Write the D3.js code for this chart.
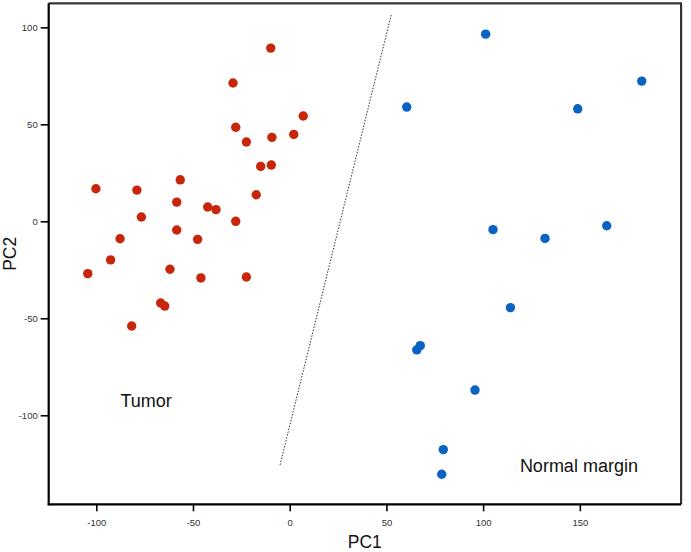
<!DOCTYPE html>
<html>
<head>
<meta charset="utf-8">
<script src="https://cdn.jsdelivr.net/npm/d3@7"></script>
<style>
  html, body { margin: 0; padding: 0; background: #fff; }
  svg { display: block; font-family: "Liberation Sans", Arial, sans-serif; }
</style>
</head>
<body>
<svg id="chart" width="691" height="552"></svg>
<script>
// ---- data (PC1, PC2) ----
const tumorPC1 = [-9.8, -29.3, 7.0, -27.9, 2.1, -9.2, -22.4, -15.0, -9.5, -17.3,
  -100.2, -79.0, -56.6, -58.4, -42.4, -38.1, -76.7, -27.9, -58.4, -87.7,
  -47.6, -92.6, -104.4, -61.9, -45.9, -22.4, -66.7, -64.6, -81.7];
const tumorPC2 = [89.3, 71.3, 54.3, 48.5, 44.8, 43.3, 40.9, 28.3, 29.0, 13.7,
  16.8, 16.1, 21.4, 9.9, 7.4, 6.0, 2.2, 0.0, -4.5, -9.0,
  -9.3, -19.9, -27.0, -24.7, -29.2, -28.7, -42.1, -43.7, -54.0];
const normalPC1 = [101.3, 182.0, 60.5, 148.9, 105.1, 132.0, 163.9, 114.1, 67.5, 65.7, 95.8, 79.4, 78.6];
const normalPC2 = [96.5, 72.3, 58.9, 58.0, -4.3, -8.8, -2.3, -44.5, -64.1, -66.3, -87.0, -117.7, -130.4];
const dividerPC1 = [-5.0, 52.5];
const dividerPC2 = [-125.6, 106.5];
const xTicks = [-100, -50, 0, 50, 100, 150];
const yTicks = [-100, -50, 0, 50, 100];
const groupLabels = ["Tumor", "Normal margin"];
const groupLabelPC1 = [-87.5, 119.0];
const groupLabelPC2 = [-95.5, -129.5];

const svg = d3.select("#chart");
const m = { left: 48.7, top: 3.3, right: 681, bottom: 504.3 };

const x = d3.scaleLinear().domain([-124.6, 202.3]).range([m.left, m.right]);
const y = d3.scaleLinear().domain([-145.9, 112.4]).range([m.bottom, m.top]);

// frame: top and right borders
svg.append("path")
  .attr("d", `M${m.left},${m.top}H${m.right}V${m.bottom}`)
  .attr("fill", "none").attr("stroke", "#bbb").attr("stroke-width", 1)
  .attr("transform", "translate(1,1)");
svg.append("path")
  .attr("d", `M${m.left},${m.top}H${m.right}V${m.bottom}`)
  .attr("fill", "none").attr("stroke", "#333").attr("stroke-width", 2);

// axes
const fmt = d => String(d);
const xAxis = d3.axisBottom(x).tickValues(xTicks).tickFormat(fmt).tickSize(7).tickPadding(8).tickSizeOuter(0);
const yAxis = d3.axisLeft(y).tickValues(yTicks).tickFormat(fmt).tickSize(8).tickPadding(3).tickSizeOuter(0);

const gx = svg.append("g").attr("transform", `translate(0,${m.bottom})`).call(xAxis);
const gy = svg.append("g").attr("transform", `translate(${m.left},0)`).call(yAxis);
[gx, gy].forEach(g => {
  g.select(".domain").attr("stroke", "#000").attr("stroke-width", 2.2);
  g.selectAll(".tick line").attr("stroke", "#000").attr("stroke-width", 1.6);
  g.selectAll(".tick text").attr("fill", "#333").attr("font-size", 9.5)
    .attr("font-family", "'Liberation Sans', Arial, sans-serif");
});
gy.select(".domain").attr("d", `M0,${m.top}V${m.bottom + 1}`);
gx.select(".domain").attr("d", `M${m.left - 1},0H${m.right}`);

// divider line
const line = d3.line().x(d => x(d[0])).y(d => y(d[1]));
svg.append("path")
  .datum(d3.zip(dividerPC1, dividerPC2))
  .attr("d", line)
  .attr("fill", "none").attr("stroke", "#333").attr("stroke-width", 1)
  .attr("stroke-dasharray", "1.5,1.5");

// points
svg.append("g").selectAll("circle")
  .data(d3.zip(tumorPC1, tumorPC2))
  .join("circle")
  .attr("cx", d => x(d[0])).attr("cy", d => y(d[1])).attr("r", 4.7)
  .attr("fill", "#C8260A");
svg.append("g").selectAll("circle")
  .data(d3.zip(normalPC1, normalPC2))
  .join("circle")
  .attr("cx", d => x(d[0])).attr("cy", d => y(d[1])).attr("r", 4.7)
  .attr("fill", "#0A62C2");

// group labels
svg.append("g").selectAll("text")
  .data(groupLabels)
  .join("text")
  .attr("x", (d, i) => x(groupLabelPC1[i]))
  .attr("y", (d, i) => y(groupLabelPC2[i]))
  .attr("font-size", 18).attr("fill", "#111")
  .text(d => d);

// axis titles
svg.append("text")
  .attr("x", (m.left + m.right) / 2).attr("y", 548)
  .attr("text-anchor", "middle").attr("font-size", 17.5).attr("fill", "#111")
  .text("PC1");
svg.append("text")
  .attr("transform", `translate(15.5,${(m.top + m.bottom) / 2}) rotate(-90)`)
  .attr("text-anchor", "middle").attr("font-size", 17.5).attr("fill", "#111")
  .text("PC2");
</script>
</body>
</html>
